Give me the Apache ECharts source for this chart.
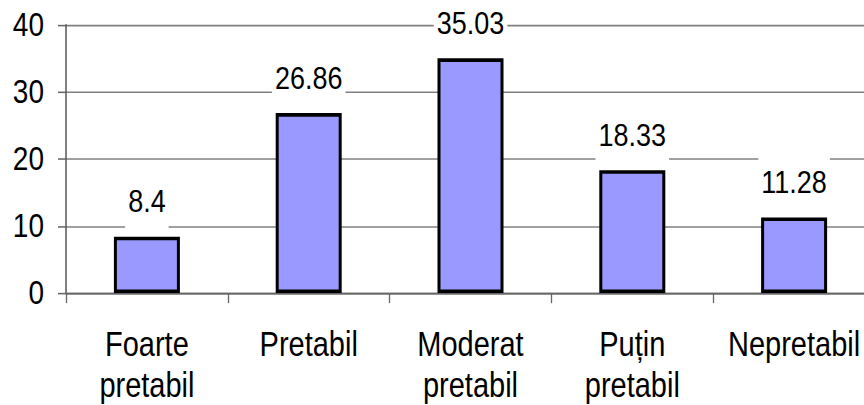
<!DOCTYPE html>
<html>
<head>
<meta charset="utf-8">
<script src="https://cdn.jsdelivr.net/npm/echarts@6/dist/echarts.min.js"></script>
<style>
  html, body { margin: 0; padding: 0; background: #fff; width: 864px; height: 405px; }
  /* the chart is laid out 340px tall and stretched to 405px so the type is tall and narrow */
  #chart { width: 864px; height: 340px; transform: scaleY(1.1912); transform-origin: 0 0; }
</style>
</head>
<body>
<div id="chart"></div>
<script>
// Land suitability classes and their share (%)
const categories = ['Foarte\npretabil', 'Pretabil', 'Moderat\npretabil', 'Puțin\npretabil', 'Nepretabil'];
const values = [8.4, 26.86, 35.03, 18.33, 11.28];
const yTicks = { min: 0, max: 40, interval: 10 };

const FONT = "'Liberation Sans', Arial, sans-serif";

const chart = echarts.init(document.getElementById('chart'), null, { renderer: 'svg' });
chart.setOption({
  animation: false,
  backgroundColor: '#ffffff',
  // the plot area runs slightly past the right edge of the canvas
  grid: { left: 66, width: 809, top: 21, bottom: 94, containLabel: false, outerBoundsMode: 'none' },
  xAxis: {
    type: 'category',
    data: categories,
    boundaryGap: true,
    axisLine: { show: true, lineStyle: { color: '#666', width: 1.3 } },
    axisTick: { show: true, alignWithLabel: false, length: 8.5, lineStyle: { color: '#666', width: 1.3 } },
    axisLabel: {
      interval: 0,
      margin: 25,
      color: '#000',
      fontFamily: FONT,
      fontSize: 29,
      lineHeight: 35
    }
  },
  yAxis: {
    type: 'value',
    min: yTicks.min,
    max: yTicks.max,
    interval: yTicks.interval,
    axisLine: { show: true, lineStyle: { color: '#555', width: 1.5 } },
    axisTick: { show: true, inside: false, length: 8, lineStyle: { color: '#666', width: 1.3 } },
    axisLabel: {
      margin: 22,
      color: '#000',
      fontFamily: FONT,
      fontSize: 28
    },
    splitLine: { show: true, lineStyle: { color: '#808080', width: 1.3 } }
  },
  series: [{
    type: 'bar',
    data: values,
    barWidth: 66,
    itemStyle: { color: '#9999ff', borderColor: '#000', borderWidth: 3 },
    label: {
      show: true,
      position: 'top',
      distance: 5,
      color: '#000',
      fontFamily: FONT,
      fontSize: 27,
      lineHeight: 20,
      backgroundColor: '#ffffff',
      padding: [11, 3, 15, 3],
      formatter: p => String(p.value)
    }
  }]
});
</script>
</body>
</html>
